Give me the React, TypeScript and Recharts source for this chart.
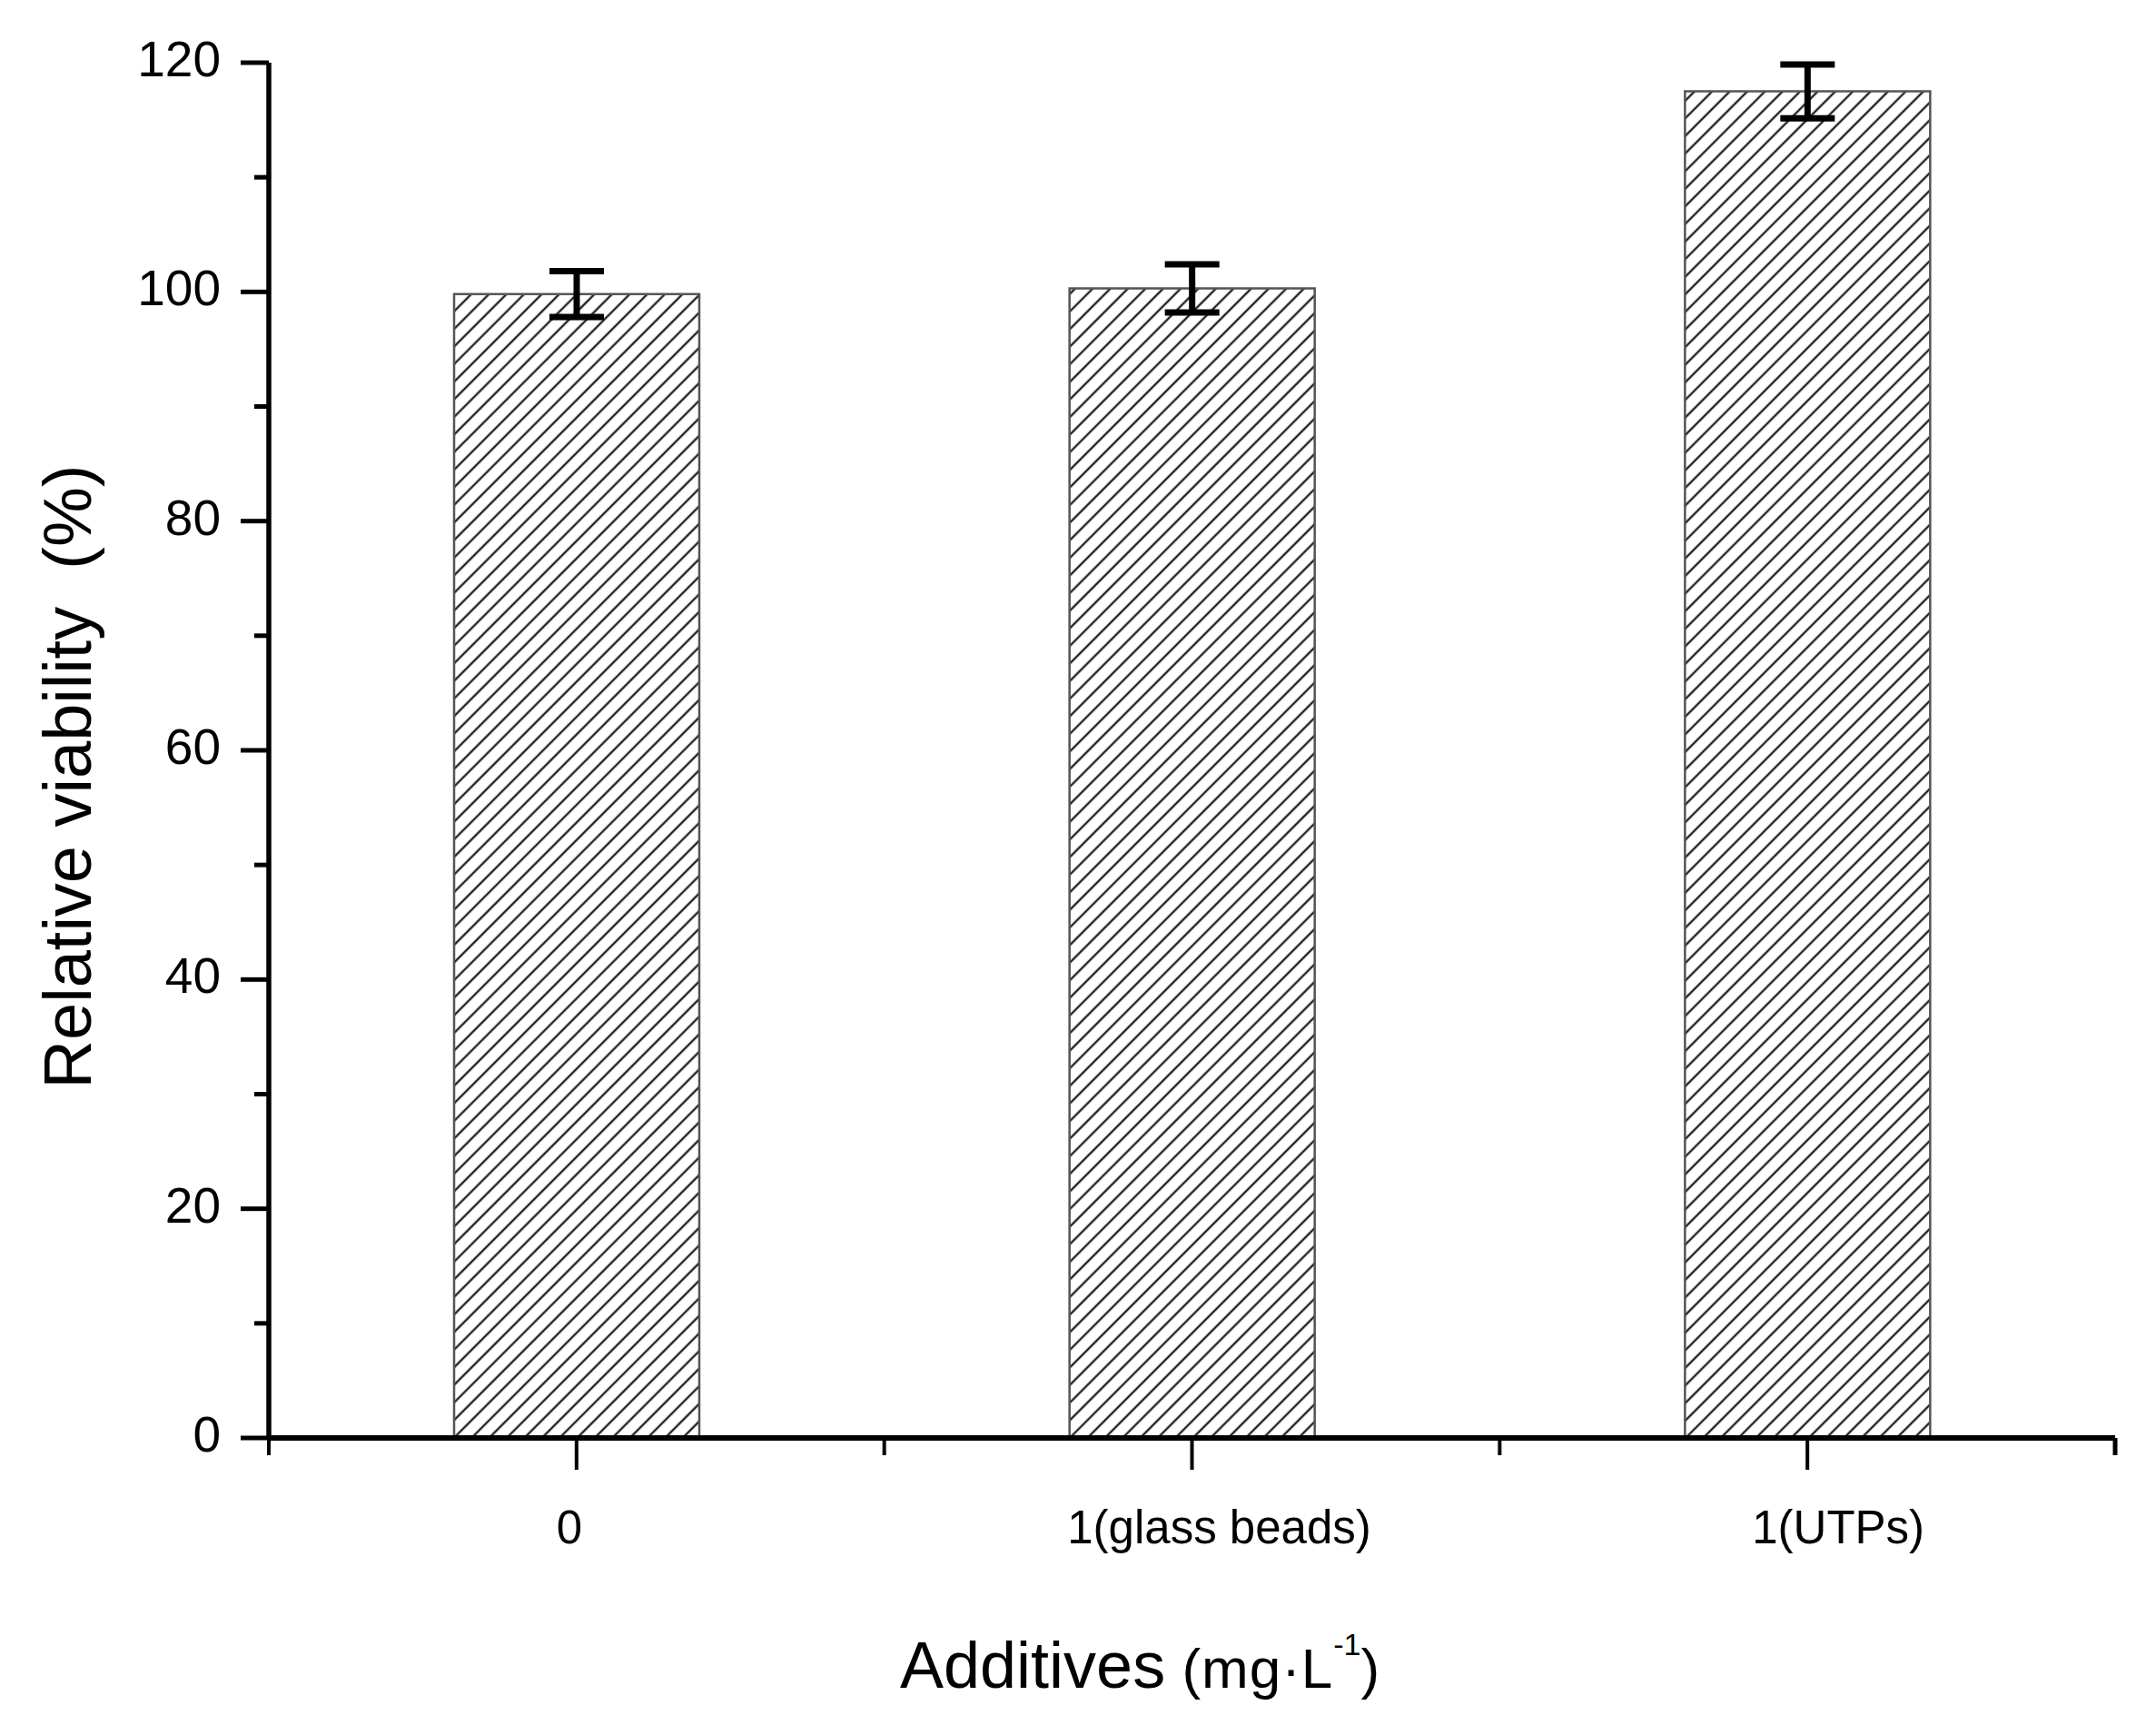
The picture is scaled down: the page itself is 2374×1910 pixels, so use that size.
import React from 'react';
import { BarChart, Bar, XAxis, YAxis, ErrorBar } from 'recharts';

// values
const CATEGORIES = ['0', '1(glass beads)', '1(UTPs)'];
const VIABILITY = [99.8, 100.3, 117.5];
const VIABILITY_SD = [2.0, 2.1, 2.35];
const Y_MAJOR_TICKS = [0, 20, 40, 60, 80, 100, 120];
const Y_MINOR_TICKS = [10, 30, 50, 70, 90, 110];

const data = CATEGORIES.map((name, i) => ({
  name,
  value: VIABILITY[i],
  err: VIABILITY_SD[i],
}));

const W = 2374;
const H = 1910;
const MARGIN = { top: 69, right: 45, left: 0, bottom: 0 };
const Y_AXIS_W = 296;
const X_AXIS_H = 327;
const PLOT_W = W - Y_AXIS_W - MARGIN.right;
const FONT = '"Liberation Sans", Arial, Helvetica, sans-serif';
// labels in the original sit a little off their tick
const X_LABEL_DX = [-8, 30, 34];

const YTick = (props: any) => {
  const { x, y, payload } = props;
  const major = Y_MAJOR_TICKS.includes(payload.value);
  const len = major ? 31 : 16;
  return (
    <g>
      <line x1={x - len} y1={y} x2={x} y2={y} stroke="#000" strokeWidth={5} />
      {major && (
        <text
          x={x - 53}
          y={y + 15}
          textAnchor="end"
          fontFamily={FONT}
          fontSize={55}
          fill="#000"
        >
          {payload.value}
        </text>
      )}
    </g>
  );
};

const XTick = (props: any) => {
  const { x, y, payload, index } = props;
  const band = PLOT_W / CATEGORIES.length;
  return (
    <g>
      <line x1={x} y1={y} x2={x} y2={y + 35} stroke="#000" strokeWidth={4} />
      <line x1={x - band / 2} y1={y} x2={x - band / 2} y2={y + 19} stroke="#000" strokeWidth={4} />
      {index === CATEGORIES.length - 1 && (
        <line x1={x + band / 2} y1={y} x2={x + band / 2} y2={y + 19} stroke="#000" strokeWidth={5} />
      )}
      <text
        x={x + (X_LABEL_DX[index] || 0)}
        y={y + 116}
        textAnchor="middle"
        fontFamily={FONT}
        fontSize={51}
        fill="#000"
      >
        {payload.value}
      </text>
    </g>
  );
};

const XTitle = (props: any) => {
  const { viewBox } = props;
  const x = viewBox.x + 695;
  const y = viewBox.y + 275;
  return (
    <text x={x} y={y} fontFamily={FONT} fill="#000">
      <tspan fontSize={72}>Additives</tspan>
      <tspan fontSize={62} letterSpacing={1}> (mg·L</tspan>
      <tspan fontSize={34} dy={-36}>-1</tspan>
      <tspan fontSize={62} dy={36}>)</tspan>
    </text>
  );
};

const YTitle = (props: any) => {
  const { viewBox } = props;
  const cx = 100;
  const cy = viewBox.y + 786;
  return (
    <text
      x={cx}
      y={cy}
      transform={`rotate(-90, ${cx}, ${cy})`}
      textAnchor="middle"
      fontFamily={FONT}
      fontSize={74}
      fill="#000"
    >
      {'Relative viability\u00A0\u00A0(%)'}
    </text>
  );
};

export default function App() {
  return (
    <div style={{ position: 'absolute', left: 0, top: 0, width: W, height: H, background: '#fff' }}>
      <BarChart width={W} height={H} data={data} margin={MARGIN}>
        <defs>
          <pattern
            id="hatch"
            width={13.7}
            height={13.7}
            patternUnits="userSpaceOnUse"
            patternTransform="rotate(45)"
          >
            <rect width={13.7} height={13.7} fill="#fff" />
            <line x1={6.85} y1={0} x2={6.85} y2={13.7} stroke="#222" strokeWidth={2.4} />
          </pattern>
        </defs>
        <XAxis
          dataKey="name"
          height={X_AXIS_H}
          axisLine={{ stroke: '#000', strokeWidth: 6 }}
          tickLine={false}
          tickSize={0}
          tickMargin={0}
          interval={0}
          tick={<XTick />}
          label={<XTitle />}
        />
        <YAxis
          type="number"
          domain={[0, 120]}
          ticks={[...Y_MAJOR_TICKS, ...Y_MINOR_TICKS].sort((a, b) => a - b)}
          width={Y_AXIS_W}
          axisLine={{ stroke: '#000', strokeWidth: 5.5 }}
          tickLine={false}
          tickSize={0}
          tickMargin={0}
          interval={0}
          allowDataOverflow
          tick={<YTick />}
          label={<YTitle />}
        />
        <Bar
          dataKey="value"
          barSize={270}
          fill="url(#hatch)"
          stroke="#555"
          strokeWidth={2.5}
          isAnimationActive={false}
        >
          <ErrorBar
            dataKey="err"
            width={30}
            stroke="#000"
            strokeWidth={7}
            isAnimationActive={false}
          />
        </Bar>
      </BarChart>
    </div>
  );
}
